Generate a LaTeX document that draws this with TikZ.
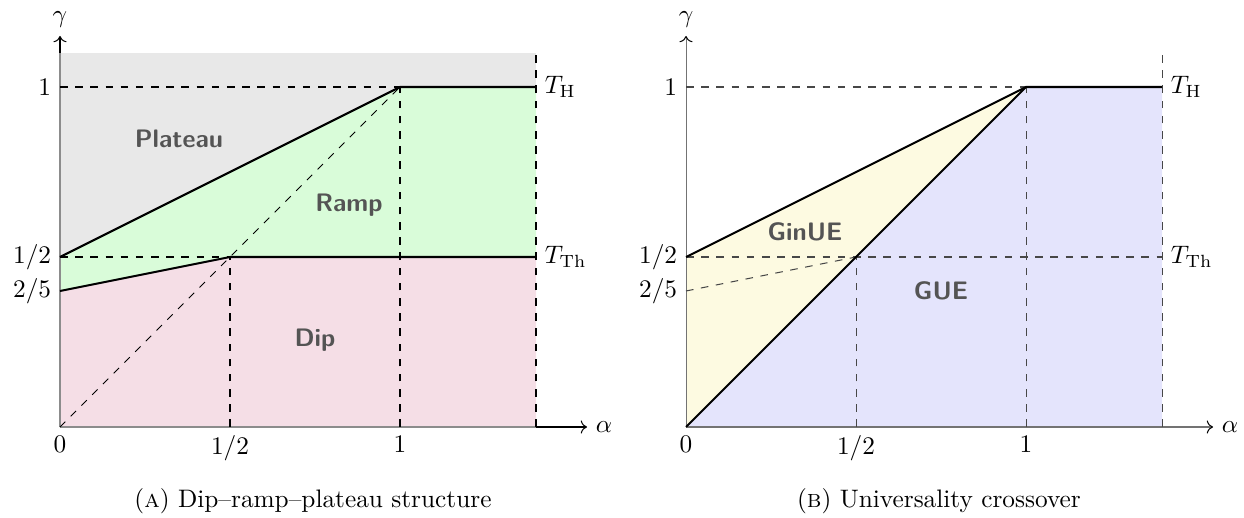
\documentclass[tikz,border=0pt]{standalone}
\usetikzlibrary{arrows.meta}
\definecolor{platc}{RGB}{232,232,232}
\definecolor{rampc}{RGB}{217,252,217}
\definecolor{dipc}{RGB}{245,222,230}
\definecolor{ginc}{RGB}{253,250,225}
\definecolor{guec}{RGB}{228,228,252}
\begin{document}
\begin{tikzpicture}[x=134.39pt,y=134.39pt,
  bound/.style={line width=0.8pt, black},
  guide/.style={dashed, black, line width=0.4pt},
  guideb/.style={dashed, black!72, line width=0.4pt},
  region/.style={font=\sffamily\bfseries, text=black!67},
  axisin/.style={black!45, line width=0.4pt},
  axisout/.style={black, line width=0.4pt, -{To}},
  axisgray/.style={black!55, line width=0.4pt, -{To[color=black]}},
  capt/.style={font=\normalsize}]
\useasboundingbox (-0.17647,-0.26471) rectangle (3.48235,1.25588);

% ---------------- left plot ----------------
\begin{scope}
  \coordinate (O) at (0,0);
  \coordinate (Y1) at (0,1);
  \coordinate (Yh) at (0,0.5);
  \coordinate (Yf) at (0,0.4);
  \coordinate (Ytop) at (0,1.1);
  \coordinate (Ytip) at (0,1.15);
  \coordinate (Xh) at (0.5,0);
  \coordinate (X1) at (1,0);
  \coordinate (Xr) at (1.4,0);
  \coordinate (Xtip) at (1.55,0);
  \coordinate (P) at (0.5,0.5);
  \coordinate (Q) at (1,1);
  \coordinate (RH) at (1.4,1);
  \coordinate (RT) at (1.4,0.5);
  \coordinate (Rtop) at (1.4,1.1);

  \fill[platc] (O) rectangle (Rtop);
  \fill[rampc] (Yh) -- (Q) -- (RH) -- (RT) -- (P) -- (Yf) -- cycle;
  \fill[dipc] (O) -- (Yf) -- (P) -- (RT) -- (Xr) -- cycle;

  \draw[axisin] (O) -- (Xr);
  \draw[axisout] (Xr) -- (Xtip);
  \draw[axisin] (O) -- (Ytop);
  \draw[axisout] (Ytop) -- (Ytip);

  \draw[guide] (Y1) -- (Q);
  \draw[guide] (Yh) -- (P);
  \draw[guide] (O) -- (Q);
  \draw[guide] (Xh) -- (P);
  \draw[guide] (X1) -- (Q);
  \draw[guide] (Xr) -- (Rtop);

  \draw[bound] (Yh) -- (Q) -- (RH);
  \draw[bound] (Yf) -- (P) -- (RT);

  \node[above] (ga) at (Ytip) {$\gamma$};
  \node[right] (aa) at (Xtip) {$\alpha$};
  \node[left] (l1) at (Y1) {$1$};
  \node[left] (lh) at (Yh) {$1/2$};
  \node[left] (lf) at (Yf) {$2/5$};
  \node[below] (b0) at (O) {$0$};
  \node[below] (bh) at (Xh) {$1/2$};
  \node[below] (b1) at (X1) {$1$};
  \node[right] (th) at (RH) {$T_{\mathrm{H}}$};
  \node[right] (tt) at (RT) {$T_{\mathrm{Th}}$};

  \node[region] (plat) at (0.35,0.847) {Plateau};
  \node[region] (ramp) at (0.85,0.653) {Ramp};
  \node[region] (dip) at (0.75,0.256) {Dip};

  \node[capt] (capa) at (0.744,-0.217) {(\textsc{a}) Dip--ramp--plateau structure};
\end{scope}

% ---------------- right plot ----------------
\begin{scope}[shift={(1.84118,0)}]
  \coordinate (o) at (0,0);
  \coordinate (y1) at (0,1);
  \coordinate (yh) at (0,0.5);
  \coordinate (yf) at (0,0.4);
  \coordinate (ytip) at (0,1.15);
  \coordinate (xh) at (0.5,0);
  \coordinate (x1) at (1,0);
  \coordinate (xr) at (1.4,0);
  \coordinate (xtip) at (1.55,0);
  \coordinate (p) at (0.5,0.5);
  \coordinate (q) at (1,1);
  \coordinate (rh) at (1.4,1);
  \coordinate (rt) at (1.4,0.5);
  \coordinate (rtop) at (1.4,1.1);

  \fill[guec] (o) -- (q) -- (rh) -- (xr) -- cycle;
  \fill[ginc] (o) -- (yh) -- (q) -- cycle;

  \draw[axisgray] (o) -- (xtip);
  \draw[axisgray] (o) -- (ytip);

  \draw[guideb] (y1) -- (q);
  \draw[guideb] (yh) -- (rt);
  \draw[guideb] (yf) -- (p);
  \draw[guideb] (xh) -- (p);
  \draw[guideb] (x1) -- (q);
  \draw[guideb] (xr) -- (rtop);

  \draw[bound] (yh) -- (q);
  \draw[bound] (o) -- (q) -- (rh);

  \node[above] (gb) at (ytip) {$\gamma$};
  \node[right] (ab) at (xtip) {$\alpha$};
  \node[left] (m1) at (y1) {$1$};
  \node[left] (mh) at (yh) {$1/2$};
  \node[left] (mf) at (yf) {$2/5$};
  \node[below] (c0) at (o) {$0$};
  \node[below] (ch) at (xh) {$1/2$};
  \node[below] (c1) at (x1) {$1$};
  \node[right] (uh) at (rh) {$T_{\mathrm{H}}$};
  \node[right] (ut) at (rt) {$T_{\mathrm{Th}}$};

  \node[region] (gin) at (0.35,0.574) {GinUE};
  \node[region] (gue) at (0.75,0.4) {GUE};

  \node[capt] (capb) at (0.744,-0.217) {(\textsc{b}) Universality crossover};
\end{scope}
\end{tikzpicture}
\end{document}
